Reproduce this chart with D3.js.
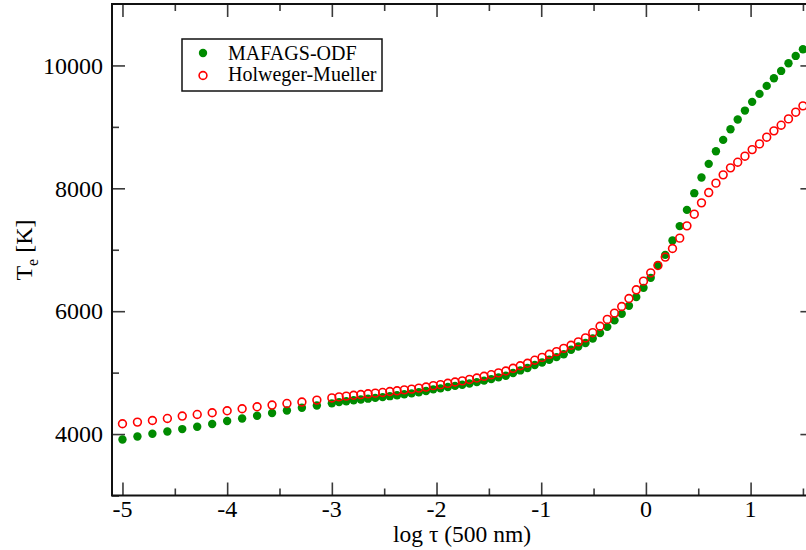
<!DOCTYPE html>
<html>
<head>
<meta charset="utf-8">
<script src="https://cdn.jsdelivr.net/npm/d3@7"></script>
<style>
  html, body { margin: 0; padding: 0; background: #fff; }
  svg { display: block; }
</style>
</head>
<body>
<svg id="chart" width="806" height="550"></svg>
<script>
// Optical depth grid, log tau at 500 nm
const logTau = [
  -5.000, -4.857, -4.714, -4.571, -4.429, -4.286, -4.143, -4.000, -3.857, -3.714,
  -3.571, -3.429, -3.286, -3.143,
  -3.000, -2.931, -2.862, -2.792, -2.723, -2.654, -2.585, -2.515, -2.446, -2.377,
  -2.308, -2.238, -2.169, -2.100, -2.031, -1.962, -1.892, -1.823, -1.754, -1.685,
  -1.615, -1.546, -1.477, -1.408, -1.338, -1.269, -1.200, -1.131, -1.062, -0.992,
  -0.923, -0.854, -0.785, -0.715, -0.646, -0.577, -0.508, -0.438, -0.369, -0.300,
  -0.231, -0.162, -0.092, -0.023, 0.046, 0.115, 0.185, 0.254, 0.323, 0.392,
  0.462, 0.531, 0.600, 0.669, 0.738, 0.808, 0.877, 0.946, 1.015, 1.085,
  1.154, 1.223, 1.292, 1.362, 1.431, 1.500
];

// Electron temperature [K], MAFAGS-ODF model
const tMafags = [
  3912, 3961, 4005, 4042, 4081, 4119, 4163, 4212, 4254, 4298,
  4342, 4384, 4428, 4465,
  4500, 4520, 4535, 4550, 4563, 4576, 4589, 4601, 4617, 4631,
  4648, 4662, 4680, 4700, 4728, 4744, 4765, 4784, 4803, 4824,
  4845, 4870, 4895, 4923, 4950, 4995, 5036, 5075, 5125, 5165,
  5210, 5252, 5300, 5372, 5425, 5481, 5555, 5643, 5745, 5850,
  5957, 6087, 6229, 6380, 6543, 6750, 6917, 7150, 7385, 7649,
  7921, 8175, 8398, 8604, 8788, 8962, 9119, 9265, 9407, 9537,
  9667, 9792, 9911, 10036, 10155, 10264
];

// Electron temperature [K], Holweger-Mueller model
const tHolweger = [
  4168, 4195, 4221, 4254, 4293, 4319, 4347, 4379, 4412, 4444,
  4472, 4498, 4521, 4553,
  4588, 4605, 4618, 4631, 4643, 4655, 4666, 4677, 4692, 4704,
  4720, 4732, 4748, 4765, 4788, 4804, 4826, 4847, 4866, 4889,
  4912, 4940, 4966, 4996, 5026, 5070, 5112, 5152, 5202, 5248,
  5298, 5342, 5394, 5445, 5500, 5565, 5650, 5755, 5866, 5969,
  6076, 6206, 6348, 6489, 6624, 6743, 6880, 7020, 7189, 7389,
  7579, 7763, 7931, 8084, 8219, 8333, 8425, 8523, 8630, 8723,
  8832, 8935, 9027, 9130, 9239, 9342
];

const xMajor = [-5, -4, -3, -2, -1, 0, 1];
const xMinor = [-4.5, -3.5, -2.5, -1.5, -0.5, 0.5, 1.5];
const yMajor = [4000, 6000, 8000, 10000];
const yMinor = [3000, 5000, 7000, 9000];

const seriesNames = ["MAFAGS-ODF", "Holweger-Mueller"];

const serif = "'Liberation Serif', 'Times New Roman', Times, serif";
const svg = d3.select("#chart").attr("font-family", serif);

const frame = { left: 112, top: 4, bottom: 495.5, right: 813.4 };

const x = d3.scaleLinear().domain([-5.1, 1.6]).range([frame.left, frame.right]);
const y = d3.scaleLinear().domain([3000, 11000]).range([frame.bottom, frame.top]);

const green = "#008b00", red = "#ff0000";
const majorLen = 13, minorLen = 7;

// Tick marks pointing inward on all four sides
function tickAxis(axisFn, scale, values, len, transform) {
  const g = svg.append("g").attr("transform", transform)
    .call(axisFn(scale).tickValues(values).tickSize(len).tickFormat(""));
  g.attr("font-family", null);
  g.select(".domain").remove();
  g.selectAll(".tick line").attr("stroke", "#3a3a3a").attr("stroke-width", 1.6);
  return g;
}
tickAxis(d3.axisTop, x, xMajor, majorLen, `translate(0,${frame.bottom})`);
tickAxis(d3.axisTop, x, xMinor, minorLen, `translate(0,${frame.bottom})`);
tickAxis(d3.axisBottom, x, xMajor, majorLen, `translate(0,${frame.top})`);
tickAxis(d3.axisBottom, x, xMinor, minorLen, `translate(0,${frame.top})`);
tickAxis(d3.axisRight, y, yMajor, majorLen, `translate(${frame.left},0)`);
tickAxis(d3.axisRight, y, yMinor, minorLen, `translate(${frame.left},0)`);
tickAxis(d3.axisLeft, y, yMajor, majorLen, `translate(${frame.right},0)`);
tickAxis(d3.axisLeft, y, yMinor, minorLen, `translate(${frame.right},0)`);

// Tick labels
svg.append("g").selectAll("text").data(xMajor).join("text")
  .attr("x", d => x(d)).attr("y", 516.5)
  .attr("text-anchor", "middle").attr("font-size", 24)
  .attr("font-family", serif).attr("fill", "#000")
  .text(d => d);

svg.append("g").selectAll("text").data(yMajor).join("text")
  .attr("x", 103).attr("y", d => y(d) + 8.3)
  .attr("text-anchor", "end").attr("font-size", 24)
  .attr("font-family", serif).attr("fill", "#000")
  .text(d => d);

// Plot frame
svg.append("rect")
  .attr("x", frame.left).attr("y", frame.top)
  .attr("width", frame.right - frame.left).attr("height", frame.bottom - frame.top)
  .attr("fill", "none").attr("stroke", "#111").attr("stroke-width", 2);

// Data points
const plot = svg.append("g");
plot.selectAll("circle.mafags").data(logTau).join("circle")
  .attr("class", "mafags")
  .attr("cx", d => x(d)).attr("cy", (d, i) => y(tMafags[i]))
  .attr("r", 4.2).attr("fill", green);

plot.selectAll("circle.hm").data(logTau).join("circle")
  .attr("class", "hm")
  .attr("cx", d => x(d)).attr("cy", (d, i) => y(tHolweger[i]))
  .attr("r", 3.9).attr("fill", "none").attr("stroke", red).attr("stroke-width", 1.6);

// Axis titles
svg.append("text")
  .attr("x", 462).attr("y", 542)
  .attr("text-anchor", "middle").attr("font-size", 23.5)
  .attr("font-family", serif)
  .text("log τ (500 nm)");

const yt = svg.append("text")
  .attr("transform", "translate(32,250) rotate(-90)")
  .attr("text-anchor", "middle").attr("font-size", 24)
  .attr("font-family", serif);
yt.append("tspan").text("T");
yt.append("tspan").attr("font-size", 16).attr("dy", 6).text("e");
yt.append("tspan").attr("dy", -6).text(" [K]");

// Legend
const lg = svg.append("g");
lg.append("rect")
  .attr("x", 182).attr("y", 39).attr("width", 200).attr("height", 52)
  .attr("fill", "#fff").attr("stroke", "#111").attr("stroke-width", 1.5);
lg.append("circle").attr("cx", 203).attr("cy", 53).attr("r", 4.2).attr("fill", green);
lg.append("circle").attr("cx", 203).attr("cy", 75.5).attr("r", 3.9)
  .attr("fill", "none").attr("stroke", red).attr("stroke-width", 1.6);
lg.append("text").attr("x", 228).attr("y", 59.5).attr("font-size", 20)
  .attr("font-family", serif).text(seriesNames[0]);
lg.append("text").attr("x", 228).attr("y", 81).attr("font-size", 20)
  .attr("font-family", serif).text(seriesNames[1]);
</script>
</body>
</html>
